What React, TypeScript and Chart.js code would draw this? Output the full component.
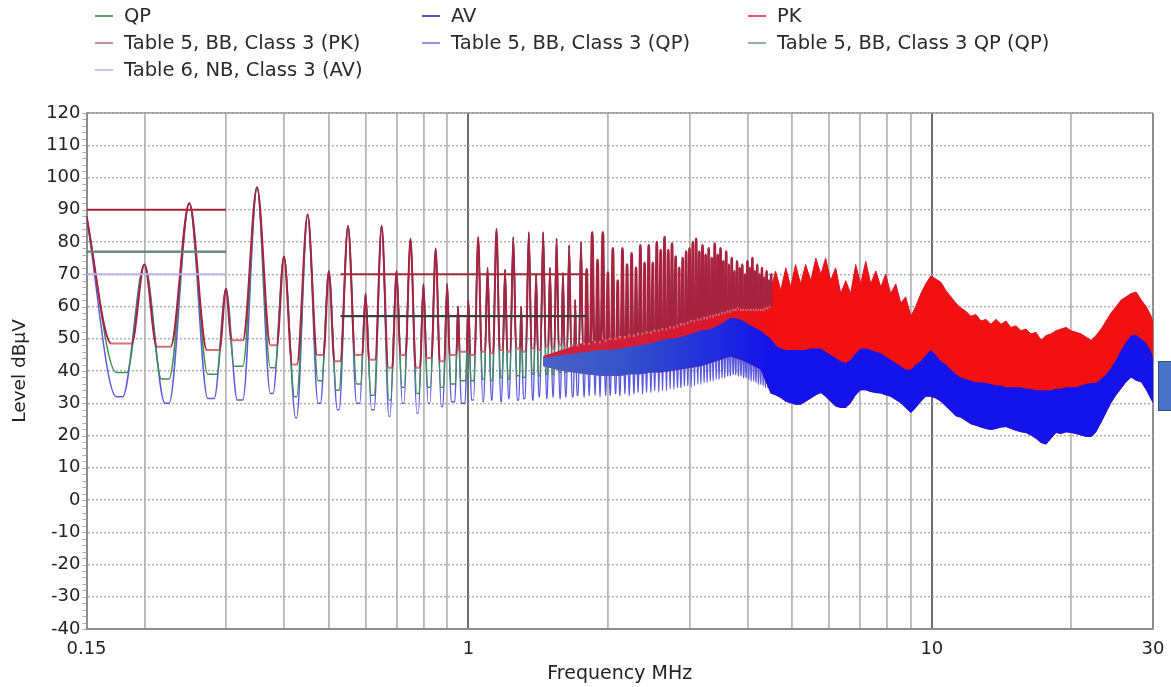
import React, { useEffect, useRef } from "react";
import { Chart, registerables } from "chart.js";

Chart.register(...registerables);

const FONT = "'DejaVu Sans', 'Liberation Sans', sans-serif";

// ---- Harmonic (discrete) part of the scan: 50 kHz harmonics, 0.15 .. 4.5 MHz ----
const HARMONIC_MHZ = [
  0.15, 0.2, 0.25, 0.3, 0.35, 0.4, 0.45, 0.5, 0.55, 0.6,
  0.65, 0.7, 0.75, 0.8, 0.85, 0.9, 0.95, 1, 1.05, 1.1,
  1.15, 1.2, 1.25, 1.3, 1.35, 1.4, 1.45, 1.5, 1.55, 1.6,
  1.65, 1.7, 1.75, 1.8, 1.85, 1.9, 1.95, 2, 2.05, 2.1,
  2.15, 2.2, 2.25, 2.3, 2.35, 2.4, 2.45, 2.5, 2.55, 2.6,
  2.65, 2.7, 2.75, 2.8, 2.85, 2.9, 2.95, 3, 3.05, 3.1,
  3.15, 3.2, 3.25, 3.3, 3.35, 3.4, 3.45, 3.5, 3.55, 3.6,
  3.65, 3.7, 3.75, 3.8, 3.85, 3.9, 3.95, 4, 4.05, 4.1,
  4.15, 4.2, 4.25, 4.3, 4.35, 4.4, 4.45, 4.5,
];
// level at each harmonic (all detectors meet here), dBµV
const HARMONIC_LEVEL = [
  88, 73, 92, 65.5, 97, 75.5, 88.5, 71, 85, 64,
  85, 71, 81, 67, 78, 67, 60, 62, 81.5, 72,
  84, 71.5, 81.5, 60, 83, 70, 83, 72, 81, 70.5,
  79, 62, 80, 71.5, 83, 74.5, 83, 70.5, 78, 68,
  78, 73, 76.5, 72, 79, 73.5, 79, 73.5, 80, 77.5,
  81.5, 77.5, 79.5, 75.5, 72, 75, 77, 78, 80, 81,
  77, 79, 76, 78, 75, 79.5, 76, 78, 74, 77,
  73, 75, 71, 74, 72, 73, 70, 74, 72, 75,
  71, 73, 70, 72, 69, 71, 68, 70,
];
// floor level in the gap after each harmonic
const PK_GAP = [
  48.5, 47.5, 46.5, 49.5, 48, 42, 45, 43, 45, 43.5,
  41, 45, 41, 44, 43, 45, 46, 45, 46, 45.5,
  46.5, 46, 47, 46, 47, 46.5, 47.5, 47, 48, 47.5,
  48, 48, 48.5, 48.5, 49, 49, 49.5, 50, 50, 50.5,
  50.5, 51, 51, 51.5, 51.5, 52, 52, 52.5, 52.5, 53,
  53, 53.5, 53.5, 54, 54.5, 54.5, 55, 55.5, 55.5, 56,
  56, 56.5, 56.5, 57, 57, 57.5, 57.5, 58, 58, 58.5,
  58.5, 59, 59, 59.5, 59, 59, 59, 59, 59, 59,
  59, 59, 59, 59, 59.5, 59.5, 60, 60,
];
const QP_GAP = [
  39.5, 37.5, 39, 41.5, 41, 32, 37, 34, 36, 32.5,
  31, 35, 33, 35, 35, 36, 37, 37, 37.5, 37,
  38, 37.5, 38.5, 38, 39, 38.5, 39, 39, 39.5, 39.5,
  40, 40, 40.5, 40.5, 41, 41, 41.5, 41.5, 42, 42,
  42.5, 42.5, 43, 43, 43.5, 43.5, 44, 44, 44.5, 44.5,
  45, 45, 45.5, 45.5, 46, 46, 46.5, 46.5, 47, 47,
  47.5, 47.5, 48, 48, 48.5, 48.5, 49, 49, 49.5, 49.5,
  50, 50, 50, 49.5, 49.5, 49, 49, 48.5, 48.5, 48,
  48, 47.5, 47.5, 47, 47, 46.5, 46.5, 46,
];
const AV_GAP = [
  32, 30, 31.5, 31, 33, 25.5, 30, 28, 30, 28,
  26, 30, 27, 30, 29, 30.5, 30, 31, 30.5, 31,
  30.5, 31.5, 31, 31.5, 31, 32, 31.5, 32, 31.5, 32,
  32, 32.5, 32, 32.5, 32.5, 32, 32.5, 32.5, 33, 32.5,
  33, 32.5, 33, 33.5, 33, 33.5, 33.5, 34, 33.5, 34,
  34, 34.5, 34.5, 35, 35, 35.5, 35.5, 35, 35.5, 36,
  36, 36.5, 36.5, 37, 37, 37.5, 37.5, 38, 38, 38.5,
  38.5, 39, 39, 38.5, 38.5, 38, 38, 37.5, 37, 37,
  36.5, 36, 36, 35.5, 35, 35, 34.5, 34,
];
// spectral line shape: flank width per dB of rise (MHz/dB) and max half-width
const PEAK_SLOPE_MHZ_PER_DB = 0.0005;
const PEAK_MAX_HALF_WIDTH_MHZ = 0.024;

// ---- Dense part of the scan: envelopes of the PK and AV bands ----
const BAND_MHZ = [
  1.45, 1.6, 1.8, 1.93, 2.03, 2.13, 2.24, 2.35, 2.47, 2.6, 2.73, 2.87,
  3.02, 3.17, 3.33, 3.5, 3.68, 3.87, 4.07, 4.27, 4.49,
  4.6, 4.72, 4.84, 4.96, 5.08, 5.21, 5.34, 5.48, 5.62, 5.76,
  5.9, 6.05, 6.2, 6.36, 6.52, 6.68, 6.85, 7.02, 7.2, 7.38,
  7.57, 7.76, 7.95, 8.15, 8.36, 8.57, 8.78, 9.01, 9.23, 9.47,
  9.7, 9.95, 10.2, 10.46, 10.72, 10.99, 11.27, 11.55, 11.84, 12.14,
  12.45, 12.76, 13.08, 13.41, 13.75, 14.1, 14.45, 14.81, 15.19, 15.57,
  15.96, 16.36, 16.78, 17.2, 17.63, 18.08, 18.53, 19, 19.48, 19.97,
  20.47, 20.99, 21.52, 22.06, 22.61, 23.18, 23.77, 24.36, 24.98, 25.61,
  26.25, 26.91, 27.59, 28.29, 29, 29.73, 30,
];
const PK_TOP = [
  44.5, 46.5, 49, 49.5, 50, 50.5, 51, 51.5, 52, 52.5, 53.5, 54.5,
  55.5, 56.5, 57.5, 58.5, 60, 60.5, 60, 60, 65,
  71, 65, 72, 66, 73, 67, 73, 68, 75, 70,
  75, 68, 72, 64, 68, 64, 73, 67, 74, 67,
  71, 66, 70, 64, 67, 61, 63, 57, 60, 64,
  67, 69.5, 68.5, 67.5, 65, 63, 61, 59.5, 58.5, 57,
  57.5, 55.5, 56, 54.5, 56, 54.5, 55.5, 53.5, 54, 52.5,
  53, 51.5, 52, 49.5, 51, 51.5, 52.5, 53, 53.5, 52.5,
  52, 51.5, 50.5, 49.5, 51, 53, 55.5, 58, 60, 62,
  63, 64, 64.5, 62, 60, 57, 55,
];
const AV_TOP = [
  44, 45, 46, 46.5, 46.5, 47, 47.5, 48, 48.5, 49.5, 50, 50.5,
  51.5, 52.5, 53, 54.5, 56.5, 56, 54, 52.5, 50,
  48, 47, 46.5, 46.5, 46.5, 46.5, 46.5, 47, 47, 47,
  46, 45, 44, 43, 42.5, 43.5, 45.5, 47, 47, 46.5,
  46, 45.5, 44.5, 43.5, 42.5, 41.5, 40.5, 40.5, 42, 43,
  45, 46.5, 45, 43, 42, 40.5, 39, 38, 37.5, 37,
  36.5, 36.5, 36.3, 36, 35.5, 35.5, 35, 35, 35, 35,
  34.5, 34.5, 34, 34, 34, 34, 34.5, 34.5, 35, 35,
  35, 35.5, 36, 36.3, 36.3, 37.5, 39, 41, 43.5, 46.5,
  49, 51, 51.2, 50, 48.7, 46, 44,
];
const AV_BOTTOM = [
  41.5, 40, 39, 38.5, 38.5, 38.5, 39, 39, 39.5, 39.5, 40, 40.5,
  41, 41.5, 42.5, 43.5, 44.5, 43.5, 42, 40.5, 33,
  32.5, 31.6, 30.5, 30, 29.5, 29.5, 30.5, 31.5, 32.5, 33.2,
  32, 30.5, 29, 28.5, 28.5, 30, 32.5, 34, 34, 33.5,
  33.2, 33, 32.5, 32, 31, 30, 28.5, 27, 28.5, 30.5,
  32, 32, 31.5, 30.5, 29, 27.5, 26, 25.5, 24.5, 23.5,
  23, 22.5, 22, 21.7, 22, 22.5, 22.6, 22, 21.5, 21,
  20.8, 20, 19, 17.7, 17.2, 19, 20.8, 20.5, 21, 20.8,
  20.5, 20, 19.5, 19.5, 21, 23.9, 27, 30, 32.5, 34.5,
  36.5, 38, 37, 36.5, 34, 31, 30,
];

// ---- Limit lines ----
const LIMIT_MHZ = [0.15, 0.3, 0.4, 0.53, 1.8];
const LIMIT_T5_PK = [90, 90, null, 70, 70];
const LIMIT_T5_QP = [77, 77, null, 57, 57];
const LIMIT_T5_QPQP = [77, 77, null, 57, 57];
const LIMIT_T6_AV = [70, 70, null, null, null];

// ---- Axes ----
const X_GRID_MHZ = [0.15, 0.2, 0.3, 0.4, 0.5, 0.6, 0.7, 0.8, 0.9, 1, 2, 3, 4, 5, 6, 7, 8, 9, 10, 20, 30];
const X_LABEL_MHZ = [0.15, 1, 10, 30];
const X_TICK_LABELS = ["0.15", "1", "10", "30"];
const X_MAJOR_MHZ = [1, 10];

// ---- Legend ----
const LEGEND_LABELS = [
  "QP", "AV", "PK",
  "Table 5, BB, Class 3 (PK)", "Table 5, BB, Class 3 (QP)", "Table 5, BB, Class 3 QP (QP)",
  "Table 6, NB, Class 3 (AV)",
];
const LEGEND_COLORS = ["#5c9e68", "#5656c8", "#e65a66", "#c49292", "#9a92d6", "#93b59f", "#c9c6ee"];

function halfWidth(peak: number, floor: number) {
  return Math.min(PEAK_MAX_HALF_WIDTH_MHZ, Math.max(0.002, (peak - floor) * PEAK_SLOPE_MHZ_PER_DB));
}
function spikeSeries(gaps: number[]) {
  const pts: { x: number; y: number }[] = [];
  HARMONIC_MHZ.forEach((f, i) => {
    const pk = HARMONIC_LEVEL[i];
    if (i > 0) pts.push({ x: f - halfWidth(pk, gaps[i - 1]), y: gaps[i - 1] });
    pts.push({ x: f, y: pk });
    pts.push({ x: f + halfWidth(pk, gaps[i]), y: gaps[i] });
  });
  return pts;
}
const band = (vals: number[]) => BAND_MHZ.map((f, i) => ({ x: f, y: vals[i] }));
const limit = (vals: (number | null)[]) => LIMIT_MHZ.map((f, i) => ({ x: f, y: vals[i] }));

function hGradient(c: any, stops: [number, string][], fallback: string) {
  const chart = c.chart;
  const a = chart.chartArea;
  const xs = chart.scales && chart.scales.x;
  if (!a || !xs) return fallback;
  const g = chart.ctx.createLinearGradient(a.left, 0, a.right, 0);
  stops.forEach(([mhz, col]) => {
    const p = (xs.getPixelForValue(mhz) - a.left) / (a.right - a.left);
    g.addColorStop(Math.min(1, Math.max(0, p)), col);
  });
  return g;
}

const framePlugin = {
  id: "frame",
  beforeDatasetsDraw(chart: any) {
    const { ctx, chartArea: a, scales } = chart;
    const y = scales.y;
    ctx.save();
    ctx.strokeStyle = "#9a9a9a";
    ctx.lineWidth = 1.5;
    ctx.beginPath();
    ctx.moveTo(a.left, a.top);
    ctx.lineTo(a.right, a.top);
    ctx.stroke();
    ctx.strokeStyle = "#a8a8a8";
    ctx.lineWidth = 1;
    for (let v = -40; v <= 120; v += 2) {
      const py = Math.round(y.getPixelForValue(v)) + 0.5;
      ctx.beginPath();
      ctx.moveTo(a.left - 4, py);
      ctx.lineTo(a.left, py);
      ctx.stroke();
    }
    ctx.restore();
  },
};

export default function App() {
  const ref = useRef<HTMLCanvasElement>(null);

  useEffect(() => {
    if (!ref.current) return;
    const chart = new Chart(ref.current, {
      type: "line",
      data: {
        datasets: [
          {
            label: "QP",
            data: spikeSeries(QP_GAP),
            borderColor: "#3f8f55",
            borderWidth: 1.5,
            cubicInterpolationMode: "monotone",
            order: 8,
          },
          {
            label: "AV",
            data: spikeSeries(AV_GAP),
            borderColor: "#5a5ae0",
            borderWidth: 1.5,
            cubicInterpolationMode: "monotone",
            order: 9,
          },
          {
            label: "PK",
            data: spikeSeries(PK_GAP),
            borderColor: "#e06a72",
            borderWidth: 2,
            cubicInterpolationMode: "monotone",
            segment: {
              borderColor: (c: any) =>
                Math.abs(c.p1.parsed.y - c.p0.parsed.y) > 0.01 ? "#a8233f" : "#e06a72",
              borderWidth: (c: any) => (c.p0.parsed.x > 1.75 ? 2.7 : 2),
            },
            order: 5,
          },
          {
            label: "Table 5, BB, Class 3 (PK)",
            data: limit(LIMIT_T5_PK),
            borderColor: "#a3283a",
            borderWidth: 2,
            spanGaps: false,
            order: 4,
          },
          {
            label: "Table 5, BB, Class 3 (QP)",
            data: limit(LIMIT_T5_QP),
            borderColor: "#6f63b8",
            borderWidth: 1.6,
            spanGaps: false,
            order: 3,
          },
          {
            label: "Table 5, BB, Class 3 QP (QP)",
            data: limit(LIMIT_T5_QPQP),
            borderColor: "#55806a",
            borderWidth: 2.2,
            spanGaps: false,
            segment: {
              borderColor: (c: any) => (c.p0.parsed.x < 0.4 ? "#5e8a72" : "#3d3d3d"),
            },
            order: 2,
          },
          {
            label: "Table 6, NB, Class 3 (AV)",
            data: limit(LIMIT_T6_AV),
            borderColor: "#b9b3e6",
            borderWidth: 2,
            spanGaps: false,
            order: 1,
          },
          {
            label: "PK band",
            data: band(PK_TOP),
            borderColor: "#d8142a",
            borderWidth: 1,
            fill: { target: 9 },
            backgroundColor: (c: any) =>
              hGradient(c, [[1.45, "#cc2040"], [3.2, "#d81a30"], [4.5, "#f21010"], [30, "#f21010"]], "#f01010"),
            order: 7,
          },
          {
            label: "AV band",
            data: band(AV_TOP),
            borderColor: "rgba(0,0,0,0)",
            borderWidth: 0,
            fill: { target: 9 },
            backgroundColor: (c: any) =>
              hGradient(c, [[1.45, "#4a62c8"], [2.2, "#3452c8"], [4.4, "#1414ea"], [30, "#1414ea"]], "#1414ea"),
            order: 6,
          },
          {
            label: "band floor",
            data: band(AV_BOTTOM),
            borderColor: "rgba(0,0,0,0)",
            borderWidth: 0,
            fill: false,
            order: 10,
          },
        ],
      },
      options: {
        animation: false,
        responsive: false,
        maintainAspectRatio: false,
        events: [],
        layout: { padding: { left: 0, right: 18, top: 113, bottom: 0 } },
        plugins: {
          legend: { display: false },
          tooltip: { enabled: false },
          title: { display: false },
        },
        elements: {
          point: { radius: 0, hoverRadius: 0 },
          line: { tension: 0, borderJoinStyle: "round" },
        },
        scales: {
          x: {
            type: "logarithmic",
            min: 0.15,
            max: 30,
            afterBuildTicks: (s: any) => {
              s.ticks = X_GRID_MHZ.map((v) => ({ value: v }));
            },
            afterFit: (s: any) => {
              s.height = 58;
              s.paddingLeft = 0;
              s.paddingRight = 0;
            },
            ticks: {
              autoSkip: false,
              maxRotation: 0,
              minRotation: 0,
              padding: 10,
              color: "#222",
              font: { family: FONT, size: 18 },
              callback: (v: any) => {
                const i = X_LABEL_MHZ.indexOf(Number(v));
                return i >= 0 ? X_TICK_LABELS[i] : "";
              },
            },
            grid: {
              drawTicks: false,
              color: (c: any) =>
                c.tick && X_MAJOR_MHZ.includes(c.tick.value)
                  ? "#6e6e6e"
                  : c.tick && c.tick.value === 30
                  ? "#8c8c8c"
                  : "#b6b6b6",
              lineWidth: (c: any) =>
                c.tick && (X_MAJOR_MHZ.includes(c.tick.value) || c.tick.value === 30) ? 2 : 1.8,
            },
            border: { color: "#8c8c8c", width: 2 },
            title: {
              display: true,
              text: "Frequency MHz",
              color: "#222",
              font: { family: FONT, size: 19 },
              padding: { top: 0, bottom: 2 },
            },
          },
          y: {
            min: -40,
            max: 120,
            afterFit: (s: any) => {
              s.width = 86.5;
            },
            ticks: {
              stepSize: 10,
              padding: 6,
              color: "#222",
              font: { family: FONT, size: 18 },
            },
            grid: { drawTicks: false, color: "#acacac", lineWidth: 1.4 },
            border: { color: "#8c8c8c", width: 2, dash: [2, 2] },
            title: {
              display: true,
              text: "Level dBµV",
              color: "#222",
              font: { family: FONT, size: 18.5 },
              padding: { top: 9, bottom: 0 },
            },
          },
        },
      },
      plugins: [framePlugin],
    } as any);
    return () => chart.destroy();
  }, []);

  const colX = [95, 422, 748];
  const rowY = [16, 43, 70];

  return (
    <div
      style={{
        position: "fixed",
        left: 0,
        top: 0,
        width: 1171,
        height: 687,
        background: "#fff",
        overflow: "hidden",
        fontFamily: FONT,
      }}
    >
      <canvas
        ref={ref}
        width={1171}
        height={687}
        style={{ position: "absolute", left: 0, top: 0, width: 1171, height: 687 }}
      />
      {LEGEND_LABELS.map((label, i) => {
        const x = colX[i % 3];
        const y = rowY[Math.floor(i / 3)];
        return (
          <div key={label}>
            <div
              style={{
                position: "absolute",
                left: x,
                top: y - 1,
                width: 18,
                height: 2,
                background: LEGEND_COLORS[i],
              }}
            />
            <div
              style={{
                position: "absolute",
                left: x + 29,
                top: y - 11,
                height: 22,
                lineHeight: "22px",
                fontSize: 19.5,
                color: "#2a2a2a",
                whiteSpace: "nowrap",
              }}
            >
              {label}
            </div>
          </div>
        );
      })}
      <div
        style={{
          position: "absolute",
          left: 1158,
          top: 361,
          width: 20,
          height: 50,
          background: "#4a74c8",
          border: "1.5px solid #2f528f",
          boxSizing: "border-box",
        }}
      />
    </div>
  );
}
